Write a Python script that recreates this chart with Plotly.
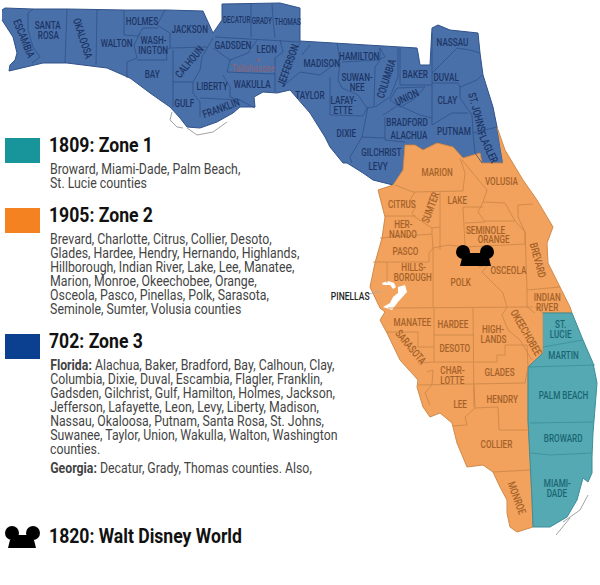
import plotly.graph_objects as go

# map is traced in image pixels, x to the right, y downward
zone3_outline = [(2,10),(5,8),(33,9),(67,9),(125,10),(167,10),(203,11),(207,20),(213,33),(222,20),(222,4),(280,3),(300,8),
    (300,41),(417,48),(418,53),(420,65),(430,65),(432,33),(432,28),(438,25),(450,30),(478,33),(480,53),(483,75),(493,107),(497,127),
    (503,163),(482,163),(480,153),(463,158),(453,147),(437,143),(423,150),(415,145),(405,145),(403,170),(393,185),(373,180),(363,173),
    (347,163),(343,163),(330,147),(325,137),(310,113),(300,102),(290,90),(277,93),(263,92),(254,97),(255,107),(240,107),(233,113),
    (217,122),(200,128),(187,127),(180,118),(170,107),(150,93),(130,78),(107,68),(67,63),(43,63),(9,71),(10,65),(15,60),(17,53),(13,37),(2,20)]
zone2_outline = [(497,127),(505,150),(523,180),(537,200),(553,227),(547,243),(548,263),(560,287),(570,307),(572,313),(543,313),(543,353),
    (528,367),(528,420),(530,453),(532,500),(533,527),(517,532),(510,527),(507,513),(507,500),(500,487),(493,472),(483,465),(467,467),
    (457,443),(452,423),(440,413),(430,417),(423,407),(417,387),(418,380),(400,360),(387,333),(380,320),(385,312),(380,308),(370,287),
    (375,263),(382,238),(385,217),(378,190),(393,185),(403,170),(405,145),(415,145),(423,150),(437,143),(453,147),(463,158),(480,153),(482,163),(503,163)]
zone1_outline = [(543,313),(572,313),(583,340),(593,363),(597,383),(595,407),(593,433),(592,457),(592,473),(588,482),(583,478),(577,500),
    (567,517),(550,527),(533,527),(532,500),(530,453),(528,420),(528,367),(543,353)]
old_tampa_bay = [(382,283),(388,281),(394,283),(396,287),(393,289),(390,285),(383,285)]
tampa_bay = [(398,287),(405,285),(407,292),(398,302),(392,310),(383,307),(390,303),(393,297),(398,293)]

zone3_borders = [
    [(33,9),(28,13),(28,30),(33,47),(40,57),(32,63)], [(67,9),(65,63)], [(97,9),(96,65)],
    [(124,10),(124,35),(138,36),(143,28),(158,28)], [(165,10),(157,25),(170,33),(170,48),(207,47)],
    [(127,78),(127,62),(137,58),(134,45),(140,33)], [(137,60),(167,60),(166,50),(170,48)],
    [(173,50),(173,107)], [(173,82),(193,82)], [(213,38),(202,57),(200,70),(193,82),(193,93),(200,102),(200,117)],
    [(200,98),(240,100),(255,108)], [(213,48),(230,60),(227,72),(275,74)], [(223,75),(230,87),(230,97),(240,100)],
    [(215,37),(300,42)], [(257,40),(248,53),(230,60)], [(280,40),(283,52),(275,58),(275,92)],
    [(251,4),(251,37)], [(272,4),(273,20),(275,38)], [(300,43),(290,57),(288,75),(283,85)], [(300,72),(282,87)],
    [(310,45),(302,55)], [(300,72),(320,75),(340,60),(337,43)], [(330,77),(330,115),(363,116),(367,108),(358,95),(342,88),(338,80),(340,63)],
    [(342,62),(378,60),(385,57),(380,48),(380,60),(375,67),(374,107),(367,108)], [(398,48),(398,77),(390,97),(375,107)],
    [(400,48),(400,85),(432,85)], [(432,73),(457,48),(470,50),(480,53)], [(432,33),(432,125),(452,113),(468,113)],
    [(432,83),(458,83),(460,87),(477,80),(482,75)], [(460,87),(460,98),(472,115),(473,133),(475,153),(482,163)], [(473,133),(497,127)],
    [(390,100),(397,88),(425,87),(413,100),(400,107),(390,100)], [(398,105),(420,115),(432,118)], [(385,117),(385,140),(405,142)],
    [(383,115),(397,106)], [(368,107),(362,137),(385,138)], [(362,137),(350,157),(352,163)],
]
zone2_borders = [
    [(395,185),(413,192),(463,191),(465,173),(460,158)], [(462,160),(473,173),(487,190),(483,202),(478,212),(485,222),(465,223)],
    [(483,202),(505,203),(515,221),(485,221)], [(515,221),(525,232),(525,245)], [(518,205),(533,204)],
    [(518,205),(518,217),(525,232),(527,290),(560,287)], [(527,290),(527,307),(535,313)],
    [(440,192),(440,250)], [(463,207),(465,245)], [(463,207),(483,207)], [(433,248),(448,245),(465,247),(525,244)],
    [(415,192),(410,200),(416,207),(412,213),(415,217),(432,228),(432,234)], [(385,216),(416,216)], [(380,238),(432,234)],
    [(432,228),(440,227)], [(432,234),(433,248),(429,253),(429,262)], [(373,262),(429,262)], [(387,262),(387,283)],
    [(433,248),(433,307)], [(388,308),(533,307)], [(478,267),(488,265),(482,272),(493,283),(503,293),(507,307),(502,315),(508,330),(520,340),(530,357),(532,360)],
    [(535,307),(543,313)], [(434,308),(434,362)], [(473,308),(474,407)], [(434,335),(473,335)], [(434,362),(473,362)],
    [(387,332),(418,332),(418,347),(434,347)], [(418,363),(434,362)], [(418,385),(525,383),(528,367)],
    [(474,362),(497,362),(497,355),(505,355),(505,345),(527,345),(528,367)], [(474,385),(475,408),(465,417),(467,425),(453,426)],
    [(475,408),(498,407),(499,430),(530,430)], [(493,472),(530,470)], [(427,372),(433,370),(432,385),(425,393),(430,405)],
]
zone1_borders = [[(543,347),(575,342),(583,340)], [(528,367),(595,365)], [(530,423),(593,422)], [(531,453),(550,455),(592,453)]]
coast_bits = [[(172,112),(170,120),(177,127),(183,128)], [(187,128),(197,135),(213,132),(227,122)], [(563,522),(580,510),(588,495)], [(556,535),(570,518)]]

zone3_labels = [("ESCAMBIA",24,38,68),("SANTA<br>ROSA",48,30,0),("OKALOOSA",83,38,72),("WALTON",116,43,0),("HOLMES",142,21,0),("JACKSON",189,29,0),
    ("WASH-<br>INGTON",153,45,0),("GADSDEN",233,45,0),("LEON",267,49,0),("CALHOUN",189,62,-50),("BAY",152,74,0),("LIBERTY",212,86,0),("WAKULLA",252,84,0),
    ("GULF",184,103,0),("FRANKLIN",221,108,-20),("JEFFERSON",288,65,-70),("TAYLOR",310,95,0),("MADISON",321,63,0),("HAMILTON",359,56,0),
    ("SUWAN-<br>NEE",357,82,0),("COLUMBIA",386,79,-72),("BAKER",415,74,0),("DUVAL",446,77,0),("NASSAU",452,42,0),("UNION",407,97,-25),("CLAY",447,100,0),
    ("BRADFORD",407,122,0),("ALACHUA",409,135,0),("PUTNAM",454,131,0),("ST. JOHNS",477,112,75),("FLAGLER",488,147,65),("LAFAY-<br>ETTE",343,105,0),
    ("DIXIE",346,133,0),("GILCHRIST",381,152,0),("LEVY",378,166,0)]
georgia_labels = [("DECATUR",237,20,0),("GRADY",262,21,0),("THOMAS",287,22,0)]
zone2_labels = [("MARION",437,172,0),("VOLUSIA",501,181,0),("CITRUS",402,204,0),("SUMTER",430,208,-70),("LAKE",457,200,0),("SEMINOLE",485,230,0),("ORANGE",493,239,0),
    ("HER-<br>NANDO",403,229,0),("PASCO",405,251,0),("HILLS-<br>BOROUGH",413,272,0),("POLK",461,282,0),("OSCEOLA",508,270,0),("BREVARD",538,260,75),
    ("INDIAN<br>RIVER",547,302,0),("MANATEE",412,322,0),("HARDEE",453,324,0),("HIGH-<br>LANDS",493,334,0),("OKEECHOBEE",526,332,60),("SARASOTA",411,347,50),
    ("DESOTO",455,348,0),("CHAR-<br>LOTTE",452,375,0),("GLADES",499,372,0),("LEE",460,404,0),("HENDRY",502,399,0),("COLLIER",496,444,0),("MONROE",517,498,70)]
zone1_labels = [("ST.<br>LUCIE",560,329,0),("MARTIN",563,355,0),("PALM BEACH",563,395,0),("BROWARD",563,438,0),("MIAMI-<br>DADE",557,488,0)]

legend_titles = [("1809: Zone 1",145),("1905: Zone 2",215),("702: Zone 3",341),("1820: Walt Disney World",536)]
legend_lines = [("Broward, Miami-Dade, Palm Beach,",169),("St. Lucie counties",183),
    ("Brevard, Charlotte, Citrus, Collier, Desoto,",239),("Glades, Hardee, Hendry, Hernando, Highlands,",253),
    ("Hillborough, Indian River, Lake, Lee, Manatee,",267),("Marion, Monroe, Okeechobee, Orange,",281),
    ("Osceola, Pasco, Pinellas, Polk, Sarasota,",295),("Seminole, Sumter, Volusia counties",309),
    ("<b>Florida:</b> Alachua, Baker, Bradford, Bay, Calhoun, Clay,",365),("Columbia, Dixie, Duval, Escambia, Flagler, Franklin,",379),
    ("Gadsden, Gilchrist, Gulf, Hamilton, Holmes, Jackson,",393),("Jefferson, Lafayette, Leon, Levy, Liberty, Madison,",407),
    ("Nassau, Okaloosa, Putnam, Santa Rosa, St. Johns,",421),("Suwanee, Taylor, Union, Wakulla, Walton, Washington",435),
    ("counties.",449),("<b>Georgia:</b> Decatur, Grady, Thomas counties. Also,",468)]
swatches = [("#17959b",138,163),("#f58220",208,233),("#0b3f8f",334,359)]

# mouse head: ear centres and the face, map one then legend one
ear_x = [463,487,12,33]
ear_y = [252,252,533,533]
face_map = [(460,266),(462,258),(470,253),(482,253),(489,258),(491,266)]
face_legend = [(8,548),(10,540),(17,535),(29,535),(34,540),(36,548)]

FONT = "Roboto, sans-serif"

fig = go.Figure()


def add_poly(points, fill, line="rgba(0,0,0,0)", width=1):
    fig.add_trace(go.Scatter(x=[p[0] for p in points], y=[p[1] for p in points], mode="lines", fill="toself",
                             fillcolor=fill, line=dict(color=line, width=width), hoverinfo="skip"))


def add_lines(paths, color, width=0.8):
    for p in paths:
        fig.add_trace(go.Scatter(x=[q[0] for q in p], y=[q[1] for q in p], mode="lines",
                                 line=dict(color=color, width=width), hoverinfo="skip"))


def add_labels(labels, color, size=11):
    for name, x, y, angle in labels:
        # two line names go in as two texts, plotly's own line gap is too wide here
        parts = name.split("<br>")
        for i, part in enumerate(parts):
            fig.add_annotation(x=x, y=y + (i - (len(parts) - 1) / 2) * 10, text=part, textangle=angle, showarrow=False,
                               font=dict(family=FONT, size=size, color=color, weight=500))


add_poly(zone3_outline, "#4a70a9", "#2f5289")
add_poly(zone2_outline, "#f2a25c", "#d08a4a")
add_poly(zone1_outline, "#54a9b3", "#3d8d98")
add_poly(old_tampa_bay, "white")
add_poly(tampa_bay, "white")
add_lines(zone3_borders, "#2f5289")
add_lines(zone2_borders, "#c98548")
add_lines(zone1_borders, "#3d8d98")
add_lines(coast_bits, "#8a8a8a")
add_lines([[(369,294),(381,291)]], "#aaaaaa")

add_poly(face_map, "black")
add_poly(face_legend, "black")
fig.add_trace(go.Scatter(x=ear_x, y=ear_y, mode="markers", marker=dict(color="black", size=14), hoverinfo="skip"))

add_labels(zone3_labels, "#1c3566")
add_labels(georgia_labels, "#1c3566", 8.5)
add_labels(zone2_labels, "#a4612a")
add_labels(zone1_labels, "#1b6672")
fig.add_annotation(x=253, y=68, text="Tallahassee", showarrow=False, font=dict(family=FONT, size=11, color="#8a6478"))
fig.add_annotation(x=258, y=60, text="★", showarrow=False, font=dict(family="DejaVu Sans", size=7, color="#8a6478"))
fig.add_annotation(x=350, y=296, text="PINELLAS", showarrow=False, font=dict(family=FONT, size=11.5, color="#222222", weight=500))

for color, y0, y1 in swatches:
    fig.add_shape(type="rect", x0=5, x1=40, y0=y0, y1=y1, fillcolor=color, line_width=0)
for text, y in legend_titles:
    fig.add_annotation(x=46.5, y=y, text="<b>%s</b>" % text, showarrow=False, xanchor="left",
                       font=dict(family=FONT, size=20, color="#111111"))
for text, y in legend_lines:
    fig.add_annotation(x=48, y=y, text=text, showarrow=False, xanchor="left",
                       font=dict(family=FONT, size=14, color="#444444"))

fig.update_xaxes(range=[0,600], visible=False, fixedrange=True)
fig.update_yaxes(range=[585,0], visible=False, fixedrange=True)
fig.update_layout(width=600, height=585, margin=dict(l=0,r=0,t=0,b=0), showlegend=False,
                  paper_bgcolor="white", plot_bgcolor="white")

# the original lettering is condensed and no condensed face is installed, so squeeze the text sideways
squeeze = """
document.body.style.margin='0';
document.querySelectorAll('.annotation-text').forEach(function(t){
    var size = parseFloat(t.style.fontSize);
    var s = size >= 14 ? 0.88 : 0.74;
    var bb = t.getBBox();
    var cx = size >= 14 ? bb.x : bb.x + bb.width/2;
    t.setAttribute('transform', 'translate('+cx+' 0) scale('+s+' 1) translate('+(-cx)+' 0)');
});
"""
fig.write_html("out.html", config=dict(displayModeBar=False), post_script=squeeze)
